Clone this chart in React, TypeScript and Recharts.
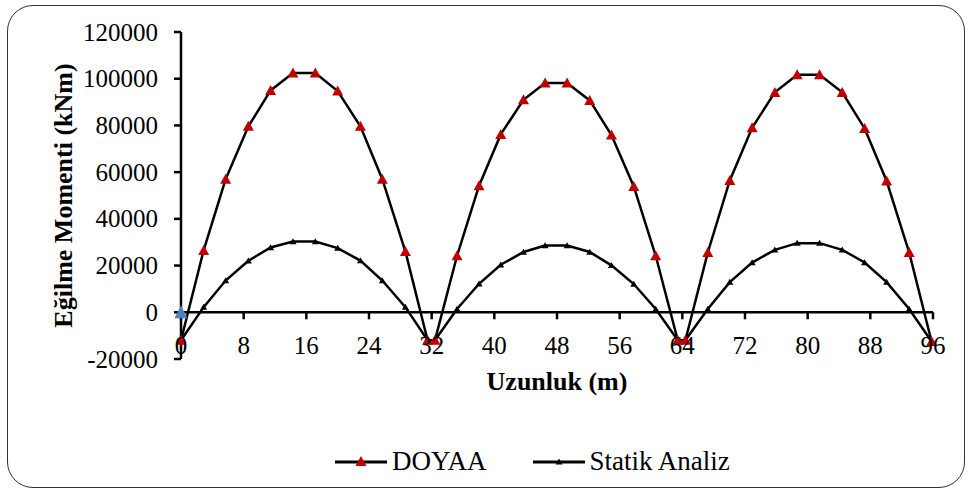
import { LineChart, Line, XAxis, YAxis } from 'recharts';

// konum (m)
const positions = [
    0, 2.89, 5.7, 8.6, 11.44, 14.29, 17.15, 20.0, 22.9, 25.7, 28.65, 31.48,
    32.42, 35.24, 38.05, 40.82, 43.72, 46.48, 49.29, 52.18, 54.95, 57.8, 60.6, 63.42,
    64.39, 67.25, 70.06, 72.91, 75.81, 78.66, 81.52, 84.41, 87.27, 90.08, 92.96, 95.82,
];
const doyaaValues = [
    -12000, 26500, 57000, 79600, 95000, 102400, 102400, 94700, 79600, 57000, 26000, -12000,
    -12000, 24200, 54200, 76150, 91000, 98150, 98150, 90700, 75900, 53900, 24200, -12000,
    -12000, 25600, 56450, 79000, 94150, 101700, 101700, 94150, 78700, 56200, 25600, -12500,
];
const statikValues = [
    -12000, 2200, 13600, 22050, 27750, 30300, 30300, 27450, 22150, 13600, 2200, -12000,
    -12000, 1400, 12200, 20350, 25800, 28600, 28600, 25800, 20100, 12100, 1400, -12000,
    -12000, 1400, 12900, 21300, 26750, 29600, 29600, 26750, 21300, 12900, 1400, -12500,
];
// tek nokta (mavi) x=0, y=0
const extraY = [0];
const xTicks = [0, 8, 16, 24, 32, 40, 48, 56, 64, 72, 80, 88, 96];
const yTicks = [-20000, 0, 20000, 40000, 60000, 80000, 100000, 120000];

const doyaaData = positions.map((x, i) => ({ x, y: doyaaValues[i] }));
const statikData = positions.map((x, i) => ({ x, y: statikValues[i] }));

const FONT = '"Liberation Serif", "Times New Roman", serif';
const TOP = 32;
const LEFT = 181;
const RIGHT = 36;
const PLOT_H = 327;
const PLOT_W = 969 - LEFT - RIGHT;
const ZERO_Y = TOP + PLOT_H * (120000 / 140000);
const TICK_SIZE = 7;
const TICK_MARGIN = 16;

const triPath = (cx: number, cy: number, w: number, h: number) =>
    `M${cx},${cy - h * 0.55} L${cx + w / 2},${cy + h * 0.45} L${cx - w / 2},${cy + h * 0.45} Z`;

const triangle = (w: number, h: number, color: string) => (props: any) => {
    const { cx, cy, index } = props;
    if (cx == null || cy == null) return null;
    return <path key={index} d={triPath(cx, cy, w, h)} fill={color} />;
};

const XTick = (props: any) => {
    const { x, payload } = props;
    return (
        <g>
            <line x1={x} x2={x} y1={ZERO_Y} y2={ZERO_Y + 7} stroke="#000" strokeWidth={2.5} />
            <text x={x} y={345} textAnchor="middle" dominantBaseline="central" fontSize={25} fontFamily={FONT} fill="#000">
                {payload.value}
            </text>
        </g>
    );
};

// y ekseni etiketi; 0 çizgisi (yatay eksen) ve mavi nokta da burada çiziliyor
const YTick = (props: any) => {
    const { x, y, payload } = props;
    const axisX = x + TICK_SIZE + TICK_MARGIN;
    const isZero = payload.value === 0;
    return (
        <g>
            {isZero && <line x1={axisX} x2={axisX + PLOT_W} y1={y} y2={y} stroke="#000" strokeWidth={2.5} />}
            <text x={x} y={y} textAnchor="end" dominantBaseline="central" fontSize={25} fontFamily={FONT} fill="#000">
                {payload.value}
            </text>
            {isZero && extraY.map((v, i) => <path key={i} d={triPath(axisX, y - v, 13, 13)} fill="#4F81BD" />)}
        </g>
    );
};

const LegendIcon = ({ color, w, h }: { color: string; w: number; h: number }) => (
    <svg width={52} height={20} style={{ marginRight: 5 }}>
        <line x1={0} x2={52} y1={10} y2={10} stroke="#000" strokeWidth={3} />
        <path d={`M26,${10 - h * 0.6} L${26 + w / 2},${10 + h * 0.4} L${26 - w / 2},${10 + h * 0.4} Z`} fill={color} />
    </svg>
);

export default function App() {
    return (
        <div style={{ position: 'absolute', left: 0, top: 0, width: 969, height: 490, background: '#fff' }}>
            <div
                style={{
                    position: 'absolute',
                    left: 7,
                    top: 5,
                    width: 956,
                    height: 481,
                    border: '1px solid #333',
                    borderRadius: 26,
                }}
            />
            <LineChart width={969} height={490} margin={{ top: TOP, right: RIGHT, left: 0, bottom: 101 }}>
                <XAxis
                    dataKey="x"
                    type="number"
                    domain={[0, 96]}
                    ticks={xTicks}
                    axisLine={false}
                    tickLine={false}
                    tick={<XTick />}
                    height={30}
                    allowDuplicatedCategory={false}
                    label={(p: any) => {
                        const vb = p.viewBox;
                        return (
                            <text
                                x={vb.x + vb.width / 2}
                                y={381}
                                textAnchor="middle"
                                dominantBaseline="central"
                                fontSize={26}
                                fontWeight="bold"
                                fontFamily={FONT}
                                fill="#000"
                            >
                                Uzunluk (m)
                            </text>
                        );
                    }}
                />
                <YAxis
                    type="number"
                    domain={[-20000, 120000]}
                    ticks={yTicks}
                    width={LEFT}
                    axisLine={{ stroke: '#000', strokeWidth: 2.5 }}
                    tickLine={{ stroke: '#000', strokeWidth: 2.5 }}
                    tickSize={TICK_SIZE}
                    tickMargin={TICK_MARGIN}
                    tick={<YTick />}
                    label={(p: any) => {
                        const vb = p.viewBox;
                        const cy = vb.y + vb.height / 2;
                        return (
                            <text
                                x={63}
                                y={cy}
                                transform={`rotate(-90, 63, ${cy})`}
                                textAnchor="middle"
                                dominantBaseline="central"
                                fontSize={26}
                                fontWeight="bold"
                                fontFamily={FONT}
                                fill="#000"
                            >
                                Eğilme Momenti (kNm)
                            </text>
                        );
                    }}
                />
                <Line
                    data={statikData}
                    dataKey="y"
                    name="Statik Analiz"
                    stroke="#000"
                    strokeWidth={2.5}
                    dot={triangle(7, 6, '#000')}
                    activeDot={false}
                    isAnimationActive={false}
                />
                <Line
                    data={doyaaData}
                    dataKey="y"
                    name="DOYAA"
                    stroke="#000"
                    strokeWidth={2.5}
                    dot={triangle(11, 10, '#C00000')}
                    activeDot={false}
                    isAnimationActive={false}
                />
            </LineChart>
            <div
                style={{
                    position: 'absolute',
                    top: 446,
                    left: 335,
                    display: 'flex',
                    alignItems: 'center',
                    fontFamily: FONT,
                    fontSize: 27,
                    color: '#000',
                    whiteSpace: 'nowrap',
                }}
            >
                <LegendIcon color="#C00000" w={11} h={10} />
                <span>DOYAA</span>
                <span style={{ width: 46 }} />
                <LegendIcon color="#000" w={7} h={6} />
                <span>Statik Analiz</span>
            </div>
        </div>
    );
}
